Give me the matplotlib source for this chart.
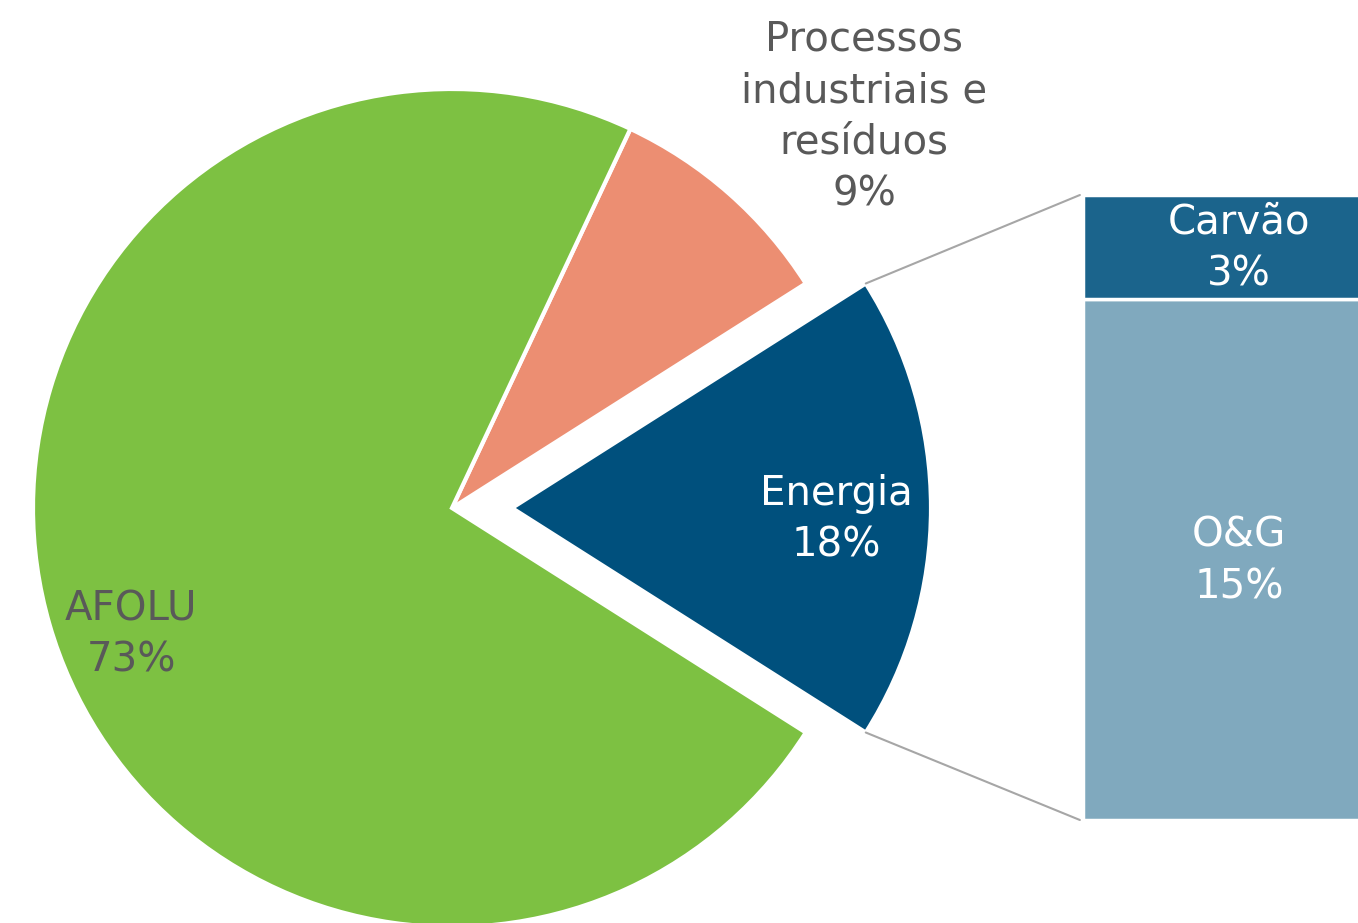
import matplotlib
matplotlib.use("Agg")
import matplotlib.pyplot as plt
from matplotlib.patches import ConnectionPatch
import numpy as np

# pie data (percent)
pie_labels = ["Energia", "Processos\nindustriais e\nresíduos", "AFOLU"]
pie_values = [18, 9, 73]
pie_colors = ["#00507D", "#EC8E72", "#7DC142"]

# breakdown of Energia
bar_labels = ["O&G", "Carvão"]
bar_values = [15, 3]
bar_colors = ["#80A9BE", "#1B648C"]

W, H = 1358, 923
fig = plt.figure(figsize=(W / 100, H / 100), dpi=100)
ax = fig.add_axes([0, 0, 1, 1])

cx, cy, r = 452, H - 508, 419
start = -pie_values[0] / 100 * 360 / 2
wedges, _ = ax.pie(pie_values, colors=pie_colors, startangle=start,
                   center=(cx, cy), radius=r, explode=[60, 0, 0],
                   wedgeprops=dict(edgecolor="white", linewidth=3),
                   frame=True)
ax.set_xlim(0, W)
ax.set_ylim(0, H)
ax.set_aspect("equal")
ax.axis("off")

fs = 29
ls = 1.38
grey = "#595959"
ax.text(864, H - 117, "Processos\nindustriais e\nresíduos\n9%", ha="center", va="center",
        fontsize=fs, color=grey, linespacing=ls)
ax.text(836, H - 520, "Energia\n18%", ha="center", va="center",
        fontsize=fs, color="white", linespacing=ls)
ax.text(131, H - 635, "AFOLU\n73%", ha="center", va="center",
        fontsize=fs, color=grey, linespacing=ls)

# stacked bar (runs past the right edge, as in the original)
ax2 = fig.add_axes([1083 / W, (H - 820) / H, 312 / W, 625 / H])
bottom = 0
for lab, val, col in zip(bar_labels, bar_values, bar_colors):
    ax2.bar(0, val, width=1, bottom=bottom, color=col, edgecolor="white", linewidth=2.5)
    ax2.text(0, bottom + val / 2 - 0.05, f"{lab}\n{val}%", ha="center", va="center",
             fontsize=fs, color="white", linespacing=ls)
    bottom += val
ax2.set_xlim(-0.5, 0.5)
ax2.set_ylim(0, sum(bar_values))
ax2.axis("off")

# connector lines
w = wedges[0]
for ang, yb in [(w.theta2, sum(bar_values)), (w.theta1, 0)]:
    px = w.center[0] + r * np.cos(np.radians(ang))
    py = w.center[1] + r * np.sin(np.radians(ang))
    con = ConnectionPatch(xyA=(-0.51, yb), coordsA=ax2.transData,
                          xyB=(px, py), coordsB=ax.transData,
                          color="#A6A6A6", linewidth=1.5)
    fig.add_artist(con)

fig.savefig("out.png", dpi=100)
